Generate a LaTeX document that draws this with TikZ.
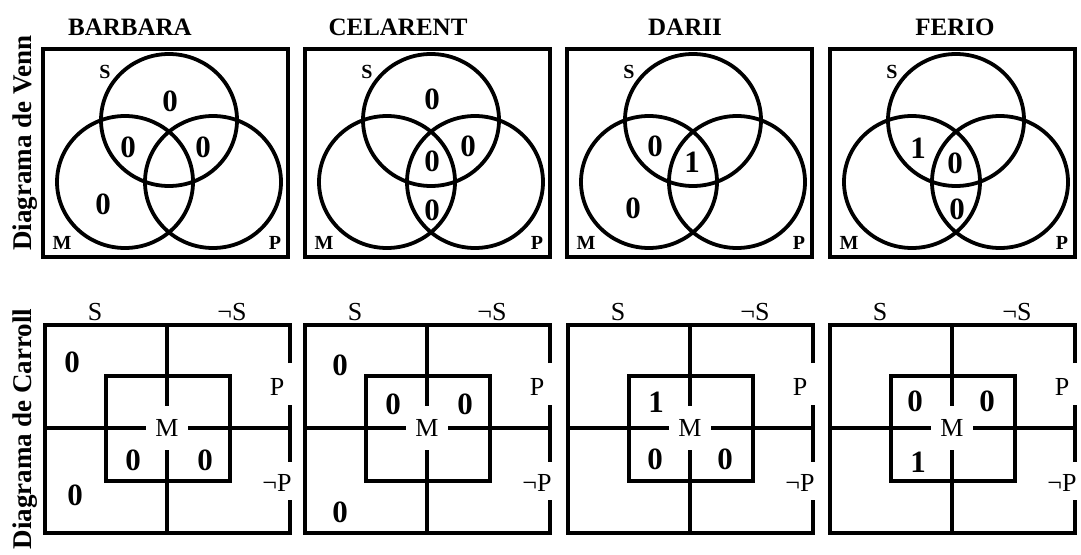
\documentclass[tikz,border=0pt]{standalone}
\usepackage{fontspec}
\setmainfont{Liberation Serif}
\begin{document}
\begin{tikzpicture}[x=1pt,y=-1pt,
  frame/.style={line width=4pt},
  ring/.style={line width=3.8pt},
  grid/.style={line width=4.5pt},
  title/.style={font=\fontsize{25}{25}\selectfont\bfseries, inner sep=0pt},
  side/.style={font=\fontsize{27}{27}\selectfont\bfseries, rotate=90, inner sep=0pt},
  setlab/.style={font=\fontsize{20}{20}\selectfont\bfseries, inner sep=0pt},
  val/.style={font=\fontsize{31}{31}\selectfont\bfseries, inner sep=0pt},
  lab/.style={font=\fontsize{26}{26}\selectfont, inner sep=0pt},
  mid/.style={font=\fontsize{26}{26}\selectfont, inner sep=0pt, minimum width=42pt, minimum height=44pt},
  venn/.pic={
    \draw[frame] (0,0) rectangle (245,208);
    \draw[ring] (126,71) ellipse [x radius=68pt, y radius=66pt];
    \draw[ring] (82,133) ellipse [x radius=68pt, y radius=66pt];
    \draw[ring] (170,133) ellipse [x radius=68pt, y radius=66pt];
    \node[setlab] (-s) at (62,23) {S};
    \node[setlab] (-m) at (19,194) {M};
    \node[setlab] (-p) at (232,194) {P};
  },
  carroll/.pic={
    \draw[grid, line join=miter] (245,38) -- (245,0) -- (0,0) -- (0,208) -- (245,208) -- (245,175);
    \draw[grid] (245,80) -- (245,137);
    \draw[grid] (61,51) rectangle (185,156);
    \node[mid] (-m) at (122,103) {M};
    \draw[grid] (0,103) -- (-m.west);
    \draw[grid] (-m.east) -- (245,103);
    \draw[grid] (122,0) -- (-m.north);
    \draw[grid] (-m.south) -- (122,208);
    \node[lab] (-s) at (50,-13) {S};
    \node[lab] (-ns) at (187,-13) {¬S};
    \node[lab] (-p) at (232,62) {P};
    \node[lab] (-np) at (232,158) {¬P};
  }
]
\useasboundingbox (0,0) rectangle (1081,554);

% row headings
\node[side] (vennhead) at (25,143) {Diagrama de Venn};
\node[side] (carrollhead) at (25,429) {Diagrama de Carroll};

% syllogism names
\node[title] (barbara) at (130,27) {BARBARA};
\node[title] (celarent) at (398,27) {CELARENT};
\node[title] (darii) at (685,27) {DARII};
\node[title] (ferio) at (955,27) {FERIO};

% Venn diagrams
\pic (va) at (43,49) {venn};
\pic (vb) at (305,49) {venn};
\pic (vc) at (567,49) {venn};
\pic (vd) at (830,49) {venn};

\begin{scope}[shift={(43,49)}]
  \node[val] (va1) at (127,52) {0};
  \node[val] (va2) at (85,98) {0};
  \node[val] (va3) at (160,98) {0};
  \node[val] (va4) at (60,155) {0};
\end{scope}
\begin{scope}[shift={(305,49)}]
  \node[val] (vb1) at (127,50) {0};
  \node[val] (vb2) at (163,97) {0};
  \node[val] (vb3) at (127,112) {0};
  \node[val] (vb4) at (127,161) {0};
\end{scope}
\begin{scope}[shift={(567,49)}]
  \node[val] (vc1) at (88,97) {0};
  \node[val] (vc2) at (125,113) {1};
  \node[val] (vc3) at (66,159) {0};
\end{scope}
\begin{scope}[shift={(830,49)}]
  \node[val] (vd1) at (88,99) {1};
  \node[val] (vd2) at (125,114) {0};
  \node[val] (vd3) at (127,160) {0};
\end{scope}

% Carroll diagrams
\pic (ca) at (45,325) {carroll};
\pic (cb) at (305,325) {carroll};
\pic (cc) at (568,325) {carroll};
\pic (cd) at (830,325) {carroll};

\begin{scope}[shift={(45,325)}]
  \node[val] (ca1) at (27,37) {0};
  \node[val] (ca2) at (30,170) {0};
  \node[val] (ca3) at (88,135) {0};
  \node[val] (ca4) at (160,135) {0};
\end{scope}
\begin{scope}[shift={(305,325)}]
  \node[val] (cb1) at (35,40) {0};
  \node[val] (cb2) at (35,187) {0};
  \node[val] (cb3) at (88,79) {0};
  \node[val] (cb4) at (160,79) {0};
\end{scope}
\begin{scope}[shift={(568,325)}]
  \node[val] (cc1) at (88,77) {1};
  \node[val] (cc2) at (87,134) {0};
  \node[val] (cc3) at (157,134) {0};
\end{scope}
\begin{scope}[shift={(830,325)}]
  \node[val] (cd1) at (85,76) {0};
  \node[val] (cd2) at (157,76) {0};
  \node[val] (cd3) at (88,137) {1};
\end{scope}
\end{tikzpicture}
\end{document}
